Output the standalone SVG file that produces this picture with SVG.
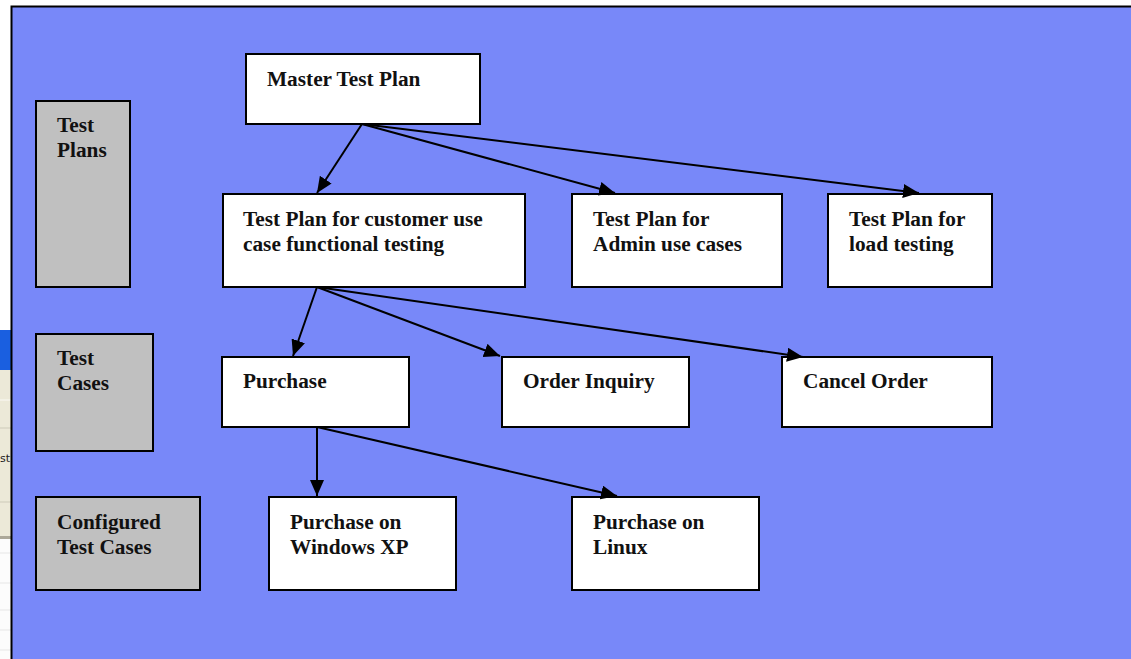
<svg xmlns="http://www.w3.org/2000/svg" width="1131" height="659" viewBox="0 0 1131 659">
<defs>
<style>
.box{fill:#fff;stroke:#000;stroke-width:2}
.cat{fill:#c0c0c0;stroke:#000;stroke-width:2}
.lbl{font-family:"Liberation Serif","Times New Roman",serif;font-weight:bold;font-size:21.3px;fill:#111}
.con{stroke:#000;stroke-width:2;fill:none;marker-end:url(#ah)}
</style>
<marker id="ah" markerUnits="userSpaceOnUse" markerWidth="18" markerHeight="16" refX="16" refY="7" orient="auto">
<path d="M0,0 L16,7 L0,14 z" fill="#000"/>
</marker>
</defs>
<rect x="0" y="0" width="1131" height="659" fill="#fff"/>
<g id="bg-artifact">
<rect x="0" y="330" width="11" height="40" fill="#1a5fe0"/>
<rect x="0" y="370" width="11" height="167" fill="#ece9d8"/>
<line x1="0" y1="400" x2="11" y2="400" stroke="#fbfaf5" stroke-width="1"/>
<line x1="0" y1="428" x2="11" y2="428" stroke="#cdcab9" stroke-width="1"/>
<line x1="0" y1="502" x2="11" y2="502" stroke="#cdcab9" stroke-width="1"/>
<rect x="0" y="536" width="11" height="3" fill="#aca899"/>
<rect x="0" y="539" width="11" height="120" fill="#fcfcfc"/>
<line x1="0" y1="553" x2="11" y2="553" stroke="#e6e6e6" stroke-width="1"/>
<line x1="0" y1="583" x2="11" y2="583" stroke="#e6e6e6" stroke-width="1"/>
<line x1="0" y1="610" x2="11" y2="610" stroke="#e6e6e6" stroke-width="1"/>
<line x1="0" y1="630" x2="11" y2="630" stroke="#e6e6e6" stroke-width="1"/>
<line x1="0" y1="650" x2="11" y2="650" stroke="#e6e6e6" stroke-width="1"/>
<text x="0" y="462" font-family="'DejaVu Sans','Liberation Sans',sans-serif" font-size="11" fill="#222">st</text>
</g>
<rect x="11.5" y="6.5" width="1125" height="660" fill="#7888f9" stroke="#000" stroke-width="2"/>
<g id="n-testplans"><rect class="cat" x="36" y="101" width="94" height="186"/><text class="lbl" x="57" y="132">Test</text><text class="lbl" x="57" y="157">Plans</text></g>
<g id="n-testcases"><rect class="cat" x="36" y="334" width="117" height="117"/><text class="lbl" x="57" y="365">Test</text><text class="lbl" x="57" y="390">Cases</text></g>
<g id="n-configured"><rect class="cat" x="36" y="497" width="164" height="93"/><text class="lbl" x="57" y="529">Configured</text><text class="lbl" x="57" y="554">Test Cases</text></g>
<g id="n-master"><rect class="box" x="246" y="54" width="234" height="70"/><text class="lbl" x="267" y="86">Master Test Plan</text></g>
<g id="n-customer"><rect class="box" x="223" y="194" width="302" height="93"/><text class="lbl" x="243" y="226">Test Plan for customer use</text><text class="lbl" x="243" y="251">case functional testing</text></g>
<g id="n-admin"><rect class="box" x="572" y="194" width="210" height="93"/><text class="lbl" x="593" y="226">Test Plan for</text><text class="lbl" x="593" y="251">Admin use cases</text></g>
<g id="n-load"><rect class="box" x="828" y="194" width="164" height="93"/><text class="lbl" x="849" y="226">Test Plan for</text><text class="lbl" x="849" y="251">load testing</text></g>
<g id="n-purchase"><rect class="box" x="222" y="357" width="187" height="70"/><text class="lbl" x="243" y="388">Purchase</text></g>
<g id="n-inquiry"><rect class="box" x="502" y="357" width="187" height="70"/><text class="lbl" x="523" y="388">Order Inquiry</text></g>
<g id="n-cancel"><rect class="box" x="782" y="357" width="210" height="70"/><text class="lbl" x="803" y="388">Cancel Order</text></g>
<g id="n-winxp"><rect class="box" x="269" y="497" width="187" height="93"/><text class="lbl" x="290" y="529">Purchase on</text><text class="lbl" x="290" y="554">Windows XP</text></g>
<g id="n-linux"><rect class="box" x="572" y="497" width="187" height="93"/><text class="lbl" x="593" y="529">Purchase on</text><text class="lbl" x="593" y="554">Linux</text></g>
<g id="connectors">
<line class="con" x1="362" y1="124" x2="317" y2="193"/>
<line class="con" x1="362" y1="124" x2="615" y2="193"/>
<line class="con" x1="362" y1="124" x2="919" y2="193"/>
<line class="con" x1="317" y1="287" x2="293" y2="356"/>
<line class="con" x1="317" y1="287" x2="500" y2="356"/>
<line class="con" x1="317" y1="287" x2="803" y2="357"/>
<line class="con" x1="317" y1="427" x2="317" y2="496"/>
<line class="con" x1="317" y1="427" x2="617" y2="496"/>
</g>
</svg>
